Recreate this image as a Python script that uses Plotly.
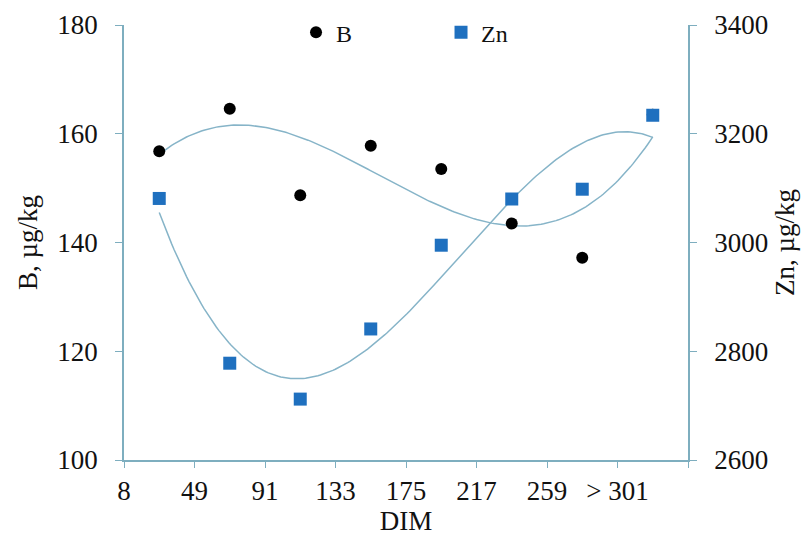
import numpy as np
import plotly.graph_objects as go

# Category boundaries shown as tick labels on the DIM axis
dim_labels = ["8", "49", "91", "133", "175", "217", "259", "> 301"]
# Category centres (one per DIM class)
x_pos = [0.5, 1.5, 2.5, 3.5, 4.5, 5.5, 6.5, 7.5]
b_vals = [156.8, 164.6, 148.7, 157.8, 153.5, 143.5, 137.2, 163.5]
zn_vals = [3081, 2778, 2712, 2841, 2995, 3080, 3098, 3234]

FONT = "Liberation Serif, Times New Roman, serif"
AX = "#7eaebf"
TREND = "#86b4c8"

xs = np.linspace(min(x_pos), max(x_pos), 200)
b_fit = np.polyval(np.polyfit(x_pos, b_vals, 3), xs)
zn_fit = np.polyval(np.polyfit(x_pos, zn_vals, 3), xs)

fig = go.Figure()
fig.add_trace(go.Scatter(x=xs, y=b_fit, mode="lines", line=dict(color=TREND, width=1.5),
                         showlegend=False, hoverinfo="skip"))
fig.add_trace(go.Scatter(x=x_pos, y=b_vals, mode="markers", name="B",
                         marker=dict(symbol="circle", size=12, color="#000000")))
fig.add_trace(go.Scatter(x=xs, y=zn_fit, mode="lines", line=dict(color=TREND, width=1.5),
                         showlegend=False, hoverinfo="skip", yaxis="y2"))
fig.add_trace(go.Scatter(x=x_pos, y=zn_vals, mode="markers", name="Zn", yaxis="y2",
                         marker=dict(symbol="square", size=13, color="#1f70bf")))

TF = 27
fig.update_layout(
    width=801, height=534,
    margin=dict(l=116, r=121, t=17, b=82, autoexpand=False),
    paper_bgcolor="white", plot_bgcolor="white",
    font=dict(family=FONT, size=TF, color="#111111"),
    xaxis=dict(range=[0, 8], tickmode="array", tickvals=list(range(len(dim_labels) + 1)),
               ticktext=dim_labels + [""], ticks="outside", ticklen=6, tickcolor=AX,
               showline=True, linecolor=AX, linewidth=1.5, showgrid=False, zeroline=False,
               ticklabelstandoff=0,
               title=dict(text="DIM", standoff=0, font=dict(size=TF)), tickfont=dict(size=TF)),
    yaxis=dict(range=[100, 180], dtick=20, ticks="outside", ticklen=7, tickcolor=AX,
               showline=True, linecolor=AX, linewidth=1.5, showgrid=False, zeroline=False,
               ticklabelstandoff=12,
               title=dict(text="B, µg/kg", standoff=12, font=dict(size=TF)), tickfont=dict(size=TF)),
    yaxis2=dict(range=[2600, 3400], dtick=200, overlaying="y", side="right",
                ticks="outside", ticklen=7, tickcolor=AX,
                showline=True, linecolor=AX, linewidth=1.5, showgrid=False, zeroline=False,
                ticklabelstandoff=12,
                title=dict(text="Zn, µg/kg", standoff=8, font=dict(size=TF)), tickfont=dict(size=TF)),
    legend=dict(orientation="h", x=0.305, y=0.996, yanchor="top", xanchor="left",
                xref="paper", yref="container", itemwidth=30,
                entrywidth=100, entrywidthmode="pixels", bgcolor="rgba(0,0,0,0)",
                font=dict(size=24)),
)

fig.write_html("out.html")
